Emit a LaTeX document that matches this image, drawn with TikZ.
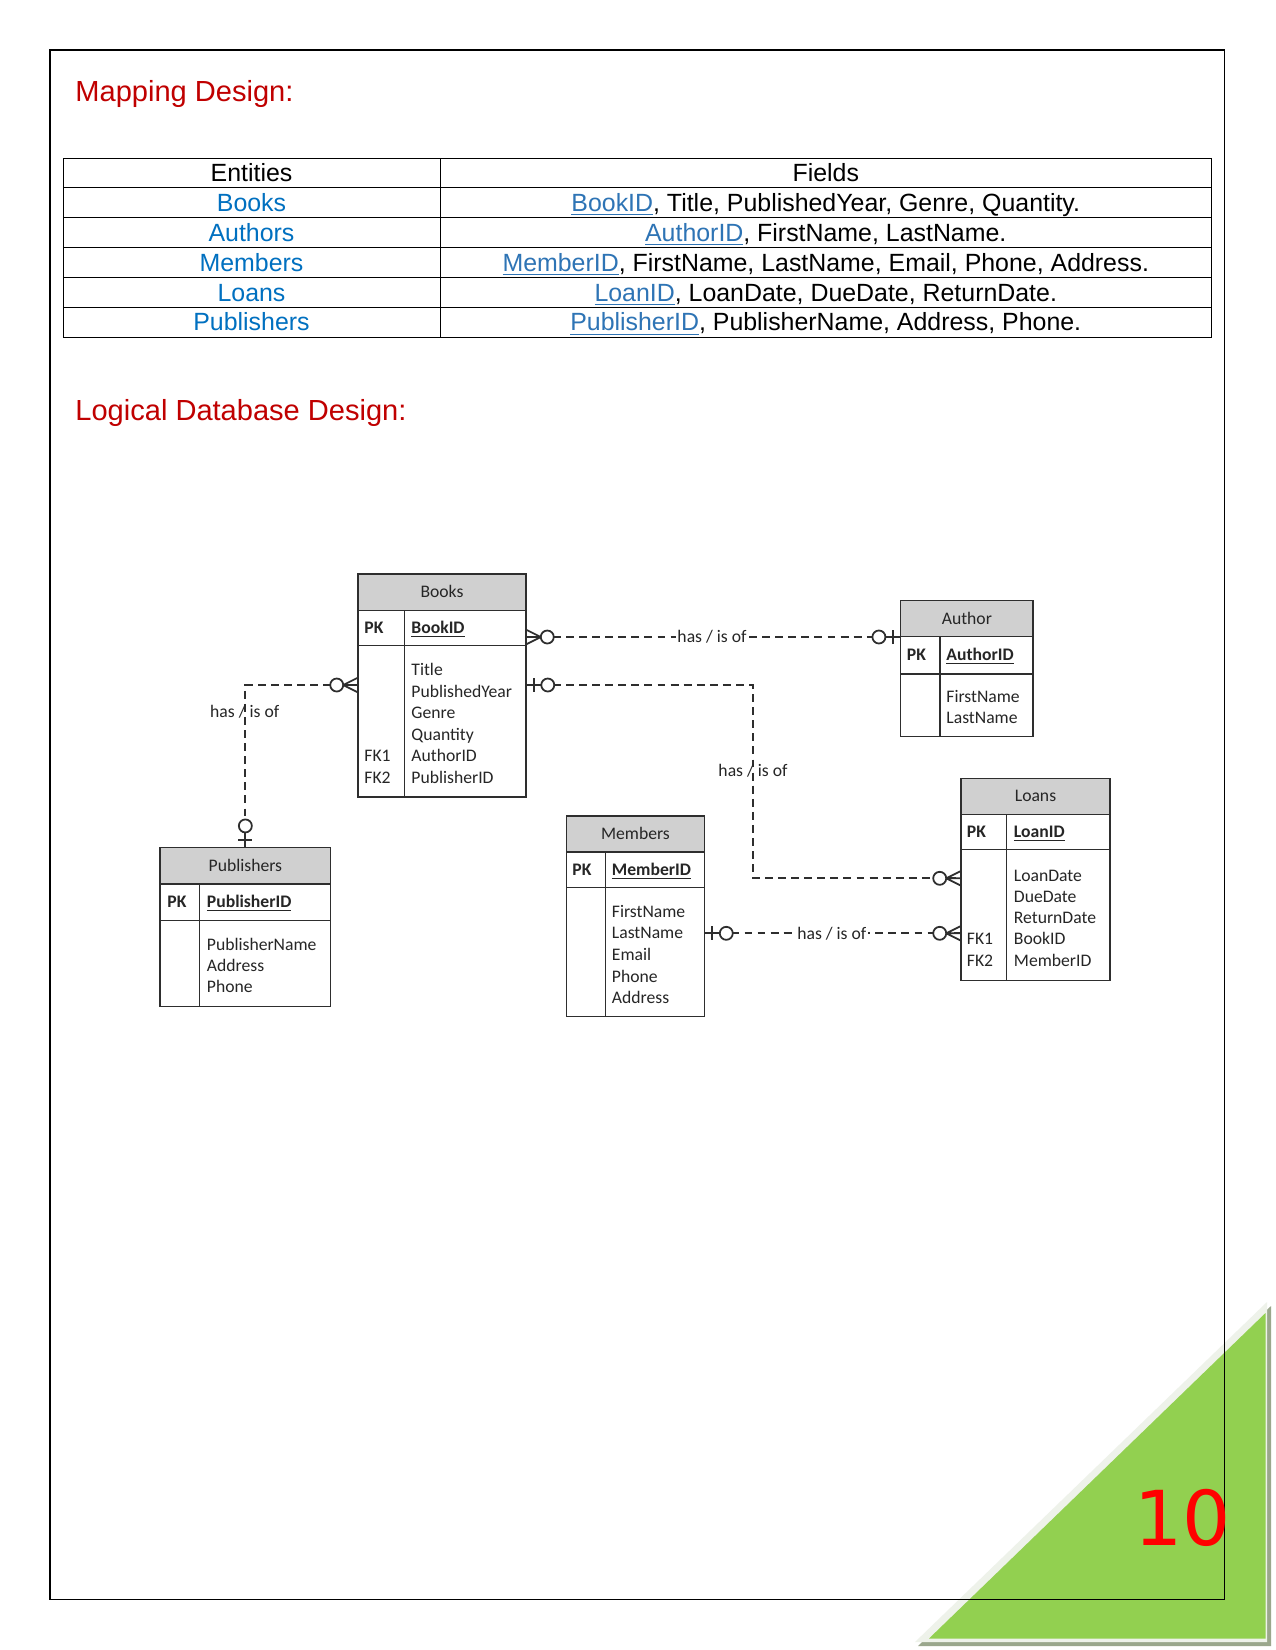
\documentclass[tikz,border=0pt]{standalone}
\usepackage{fontspec}
\setmainfont{Liberation Sans}
\newfontfamily\carlito{Carlito}
\newfontfamily\dejavu{DejaVu Sans}
\usetikzlibrary{fit}
\definecolor{titlered}{HTML}{C00000}
\definecolor{entblue}{HTML}{0070C0}
\definecolor{linkblue}{HTML}{2E74B5}
\definecolor{erline}{HTML}{2E2E2E}
\definecolor{ertext}{HTML}{262626}
\definecolor{erhead}{HTML}{D0D0D0}
\definecolor{leafgreen}{HTML}{92D050}
\definecolor{leafedge}{HTML}{EEF2EA}
\definecolor{leafshadow}{HTML}{9AA78C}
\definecolor{pagered}{HTML}{FF0000}
\newcommand\lnk[1]{\textcolor{linkblue}{\underline{#1}}}
\tikzset{
  zeromany/.pic={
    \draw[markline] (0,-7) -- (14,0) (0,0) -- (14,0) (0,7) -- (14,0);
    \draw[markline, fill=white] (20.5,0) circle[radius=6.5];
  },
  zeroone/.pic={
    \draw[markline] (0,0) -- (14,0) (7,-7) -- (7,7);
    \draw[markline, fill=white] (21,0) circle[radius=6.5];
  },
}
\begin{document}
\begin{tikzpicture}[x=0.48bp,y=-0.48bp,
  heading/.style={anchor=base west, inner sep=0, text=titlered, font=\fontsize{14}{16}\selectfont},
  cell/.style={anchor=base, inner sep=0, font=\fontsize{12}{14}\selectfont},
  ent/.style={cell, text=entblue},
  tblline/.style={draw=black, line width=0.45pt},
  erbox/.style={draw=erline, line width=0.75pt, inner sep=0},
  erhd/.style={erbox, fill=erhead},
  erlines/.style={draw=erline, line width=0.75pt},
  ertxt/.style={inner sep=0, text=ertext, font=\carlito\fontsize{8.5}{10.4}\selectfont},
  attr/.style={ertxt, anchor=base west},
  keytxt/.style={ertxt, anchor=base west, font=\carlito\bfseries\fontsize{8.5}{10.4}\selectfont},
  titletxt/.style={ertxt, anchor=base},
  conn/.style={draw=erline, line width=0.85pt, dash pattern=on 3.8pt off 2.5pt},
  markline/.style={draw=erline, line width=0.85pt, solid},
  rel/.style={ertxt, inner xsep=0.6pt, inner ysep=1pt},
]
\useasboundingbox (0,0) rectangle (1275,1650);
\fill[white] (0,0) rectangle (1275,1650);

% ---- corner leaf ----
\fill[leafshadow] (918,1646) -- (1271,1646) -- (1271,1306) -- cycle;
\fill[leafedge] (915,1642) -- (1267,1642) -- (1267,1302) -- cycle;
\fill[leafgreen] (929,1638.5) -- (1265.5,1638.5) -- (1265.5,1313) -- cycle;

% ---- page border ----
\draw[black, line width=0.5pt] (50,50) rectangle (1224.5,1599);

\node[anchor=base west, inner sep=0, text=pagered, font=\dejavu\fontsize{36.5}{40}\selectfont] (pagenum) at (1133.6,1545) {10};

% ---- headings ----
\node[heading] (maphead) at (75,101.7) {Mapping Design:};
\node[heading] (loghead) at (75,420) {Logical Database Design:};

% ---- mapping table ----
\draw[tblline] (63,158) rectangle (1211.5,337);
\foreach \r in {1,...,5} \draw[tblline] (63,158+29.83*\r) -- (1211.5,158+29.83*\r);
\draw[tblline] (440,158) -- (440,337);

\node[cell] (h-ent) at (251.5,181.7) {Entities};
\node[cell] (h-fld) at (825.75,181.7) {Fields};
\node[ent] (e1) at (251.5,211.5) {Books};
\node[ent] (e2) at (251.5,241.4) {Authors};
\node[ent] (e3) at (251.5,271.2) {Members};
\node[ent] (e4) at (251.5,301.0) {Loans};
\node[ent] (e5) at (251.5,330.9) {Publishers};
\node[cell] (f1) at (825.75,211.5) {\lnk{BookID}, Title, PublishedYear, Genre, Quantity.};
\node[cell] (f2) at (825.75,241.4) {\lnk{AuthorID}, FirstName, LastName.};
\node[cell] (f3) at (825.75,271.2) {\lnk{MemberID}, FirstName, LastName, Email, Phone, Address.};
\node[cell] (f4) at (825.75,301.0) {\lnk{LoanID}, LoanDate, DueDate, ReturnDate.};
\node[cell] (f5) at (825.75,330.9) {\lnk{PublisherID}, PublisherName, Address, Phone.};

% ---- Books ----
\node[erbox, fit={(358,574) (526,797)}] (books) {};
\node[erhd, fit={(358,574) (526,610.5)}] (books-h) {};
\draw[erlines] (358,645.5) -- (526,645.5) (404.5,610.5) -- (404.5,797);
\node[titletxt] (books-t) at (442,597.8) {Books};
\node[keytxt] (books-pk) at (364,633.5) {PK};
\node[keytxt] (books-id) at (411,633.5) {\underline{BookID}};
\foreach \t [count=\i from 0] in {Title,PublishedYear,Genre,Quantity,AuthorID,PublisherID}
  \node[attr] (books-a\i) at (411,675.5+21.6*\i) {\t};
\node[attr] (books-fk1) at (364,675.5+21.6*4) {FK1};
\node[attr] (books-fk2) at (364,675.5+21.6*5) {FK2};

% ---- Author ----
\node[erbox, fit={(900.7,600.5) (1033,736.6)}] (author) {};
\node[erhd, fit={(900.7,600.5) (1033,636.7)}] (author-h) {};
\draw[erlines] (900.7,674) -- (1033,674) (940,636.7) -- (940,736.6);
\node[titletxt] (author-t) at (966.85,624.1) {Author};
\node[keytxt] (author-pk) at (906.5,660.8) {PK};
\node[keytxt] (author-id) at (946,660.8) {\underline{AuthorID}};
\node[attr] (author-a0) at (946,702) {FirstName};
\node[attr] (author-a1) at (946,723.5) {LastName};

% ---- Publishers ----
\node[erbox, fit={(160,847.7) (330.7,1006.7)}] (publishers) {};
\node[erhd, fit={(160,847.7) (330.7,884)}] (publishers-h) {};
\draw[erlines] (160,920.7) -- (330.7,920.7) (199.3,884) -- (199.3,1006.7);
\node[titletxt] (publishers-t) at (245.35,871.3) {Publishers};
\node[keytxt] (publishers-pk) at (167,907.8) {PK};
\node[keytxt] (publishers-id) at (206.5,907.8) {\underline{PublisherID}};
\foreach \t [count=\i from 0] in {PublisherName,Address,Phone}
  \node[attr] (publishers-a\i) at (206.5,950.3+21.3*\i) {\t};

% ---- Members ----
\node[erbox, fit={(566.4,816) (704.5,1016.7)}] (members) {};
\node[erhd, fit={(566.4,816) (704.5,852)}] (members-h) {};
\draw[erlines] (566.4,887.3) -- (704.5,887.3) (605.6,852) -- (605.6,1016.7);
\node[titletxt] (members-t) at (635.45,839.5) {Members};
\node[keytxt] (members-pk) at (572,875.2) {PK};
\node[keytxt] (members-id) at (611.5,875.2) {\underline{MemberID}};
\foreach \t [count=\i from 0] in {FirstName,LastName,Email,Phone,Address}
  \node[attr] (members-a\i) at (611.5,917+21.7*\i) {\t};

% ---- Loans ----
\node[erbox, fit={(961,778.3) (1110,980.7)}] (loans) {};
\node[erhd, fit={(961,778.3) (1110,814.3)}] (loans-h) {};
\draw[erlines] (961,849.3) -- (1110,849.3) (1006.4,814.3) -- (1006.4,980.7);
\node[titletxt] (loans-t) at (1035.5,801.8) {Loans};
\node[keytxt] (loans-pk) at (966.5,837.3) {PK};
\node[keytxt] (loans-id) at (1013.5,837.3) {\underline{LoanID}};
\foreach \t [count=\i from 0] in {LoanDate,DueDate,ReturnDate,BookID,MemberID}
  \node[attr] (loans-a\i) at (1013.5,881+21.3*\i) {\t};
\node[attr] (loans-fk1) at (966.5,881+21.3*3) {FK1};
\node[attr] (loans-fk2) at (966.5,881+21.3*4) {FK2};

% ---- connectors ----
\coordinate (rowA) at (700,637);
\coordinate (bendB1) at (753,685);
\coordinate (bendB2) at (753,878.3);
\coordinate (rowM) at (830,933.3);
\coordinate (bendP) at (publishers.north |- bendB1);

\draw[conn] (books.east |- rowA) -- (author.west |- rowA);
\draw[conn] (books.east |- bendB1) -- (bendB1) -- (bendB2) -- (loans.west |- bendB2);
\draw[conn] (members.east |- rowM) -- (loans.west |- rowM);
\draw[conn] (books.west |- bendB1) -- (bendP) -- (publishers.north);

\pic at (books.east |- rowA) {zeromany};
\pic[rotate=180] at (author.west |- rowA) {zeroone};
\pic at (books.east |- bendB1) {zeroone};
\pic[rotate=180] at (loans.west |- bendB2) {zeromany};
\pic at (members.east |- rowM) {zeroone};
\pic[rotate=180] at (loans.west |- rowM) {zeromany};
\pic[rotate=180] at (books.west |- bendB1) {zeromany};
\pic[rotate=90] at (publishers.north) {zeroone};

\node[rel, fill=white] (relA) at (712,637) {has / is of};
\node[rel, fill=white] (relM) at (831.8,933.3) {has / is of};
\node[rel] (relB) at (753,770.7) {has / is of};
\node[rel] (relP) at (244.7,711.5) {has / is of};
\end{tikzpicture}
\end{document}
